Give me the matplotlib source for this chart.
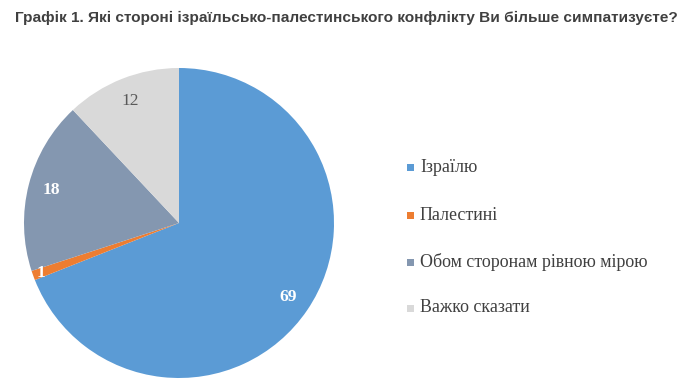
import numpy as np
import matplotlib.pyplot as plt
import matplotlib.patches as mpatches

categories = ['Ізраїлю', 'Палестині', 'Обом сторонам рівною мірою', 'Важко сказати']
values = [69, 1, 18, 12]
colors = ['#5B9BD5', '#ED7D31', '#8497B0', '#D9D9D9']
label_colors = ['white', 'white', 'white', '#595959']
label_weights = ['bold', 'bold', 'bold', 'normal']

W, H = 690, 383
fig = plt.figure(figsize=(W / 100, H / 100), dpi=100)
fig.patch.set_facecolor('white')

# title
fig.text(15 / W, 1 - 18 / H,
         'Графік 1. Які стороні ізраїльсько-палестинського конфлікту Ви більше симпатизуєте?',
         family='Liberation Sans', fontsize=11.1, fontweight='bold', color='#404040',
         ha='left', va='center')

# pie
ax = fig.add_axes([24 / W, 1 - 378 / H, 310 / W, 310 / H])
wedges, texts = ax.pie(values, colors=colors, startangle=90, counterclock=False,
                       labels=[str(v) for v in values], labeldistance=0.85,
                       wedgeprops=dict(linewidth=0))
ax.set_xlim(-1, 1)
ax.set_ylim(-1, 1)
ax.set_aspect('equal')
for i, t in enumerate(texts):
    t.set_color(label_colors[i])
    t.set_fontweight(label_weights[i])
    t.set_family('Liberation Serif')
    t.set_fontsize(12.5)
    t.set_ha('center')
    t.set_va('center')
# the thin slice label sits near the rim
th = np.deg2rad((wedges[1].theta1 + wedges[1].theta2) / 2)
texts[1].set_position((0.95 * np.cos(th), 0.95 * np.sin(th)))

# legend
ys = [167, 215, 262, 308]
for cat, col, y in zip(categories, colors, ys):
    fig.patches.append(mpatches.Rectangle((407 / W, 1 - (y + 3.5) / H), 7 / W, 7 / H,
                                          transform=fig.transFigure, facecolor=col,
                                          edgecolor='none'))
    fig.text(420 / W, 1 - y / H, cat, family='Liberation Serif', fontsize=12.9,
             color='#404040', ha='left', va='center')

plt.savefig('out.png', dpi=100, facecolor='white')
